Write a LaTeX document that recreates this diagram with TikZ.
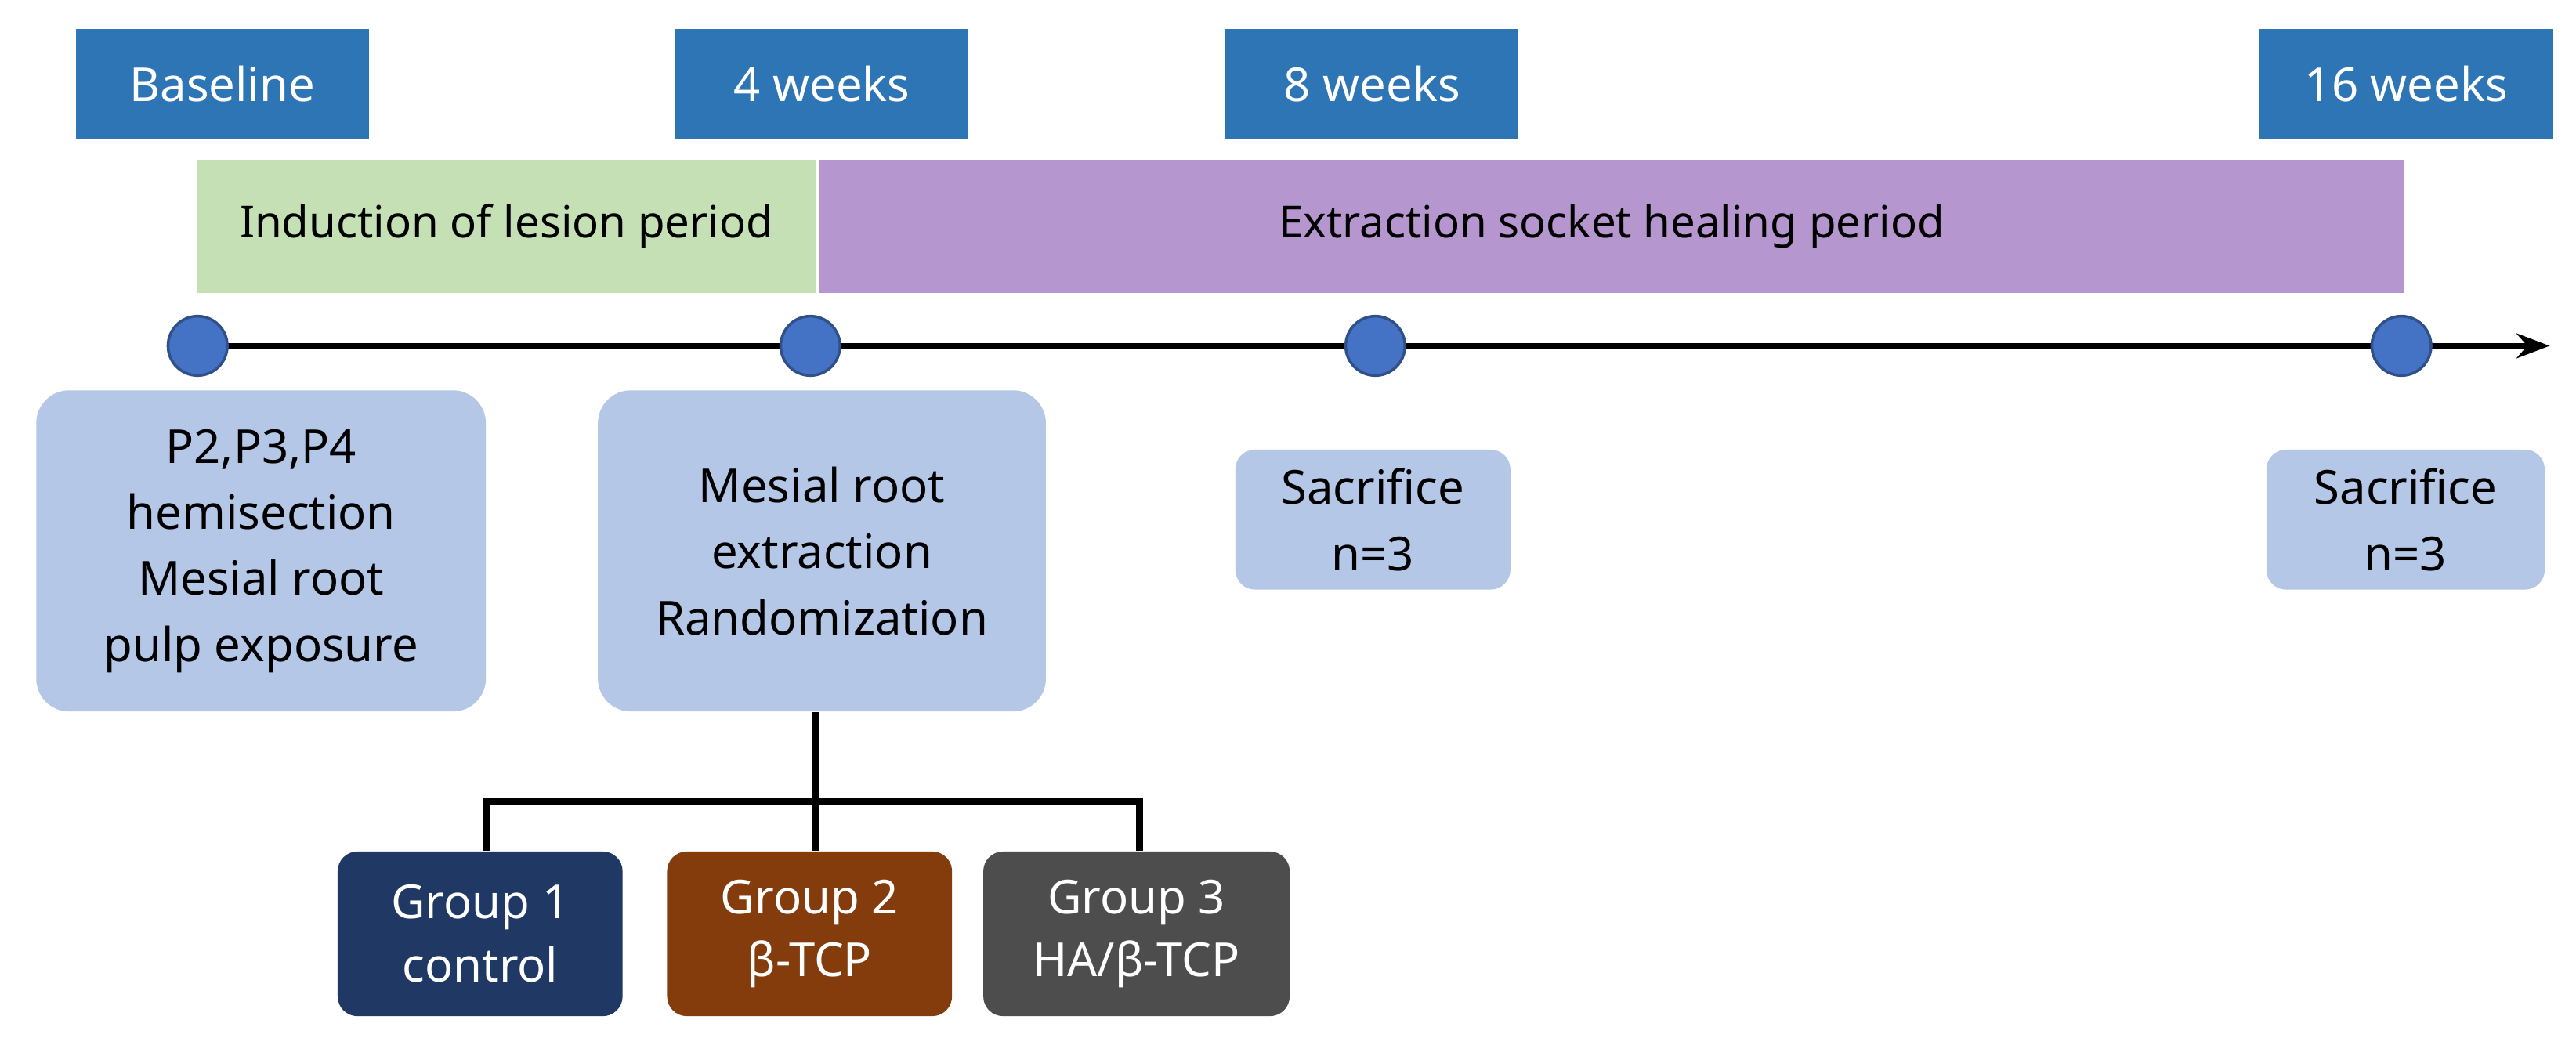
\documentclass[tikz,border=0pt]{standalone}
\usepackage{fontspec}
\setmainfont{Noto Sans}
\usetikzlibrary{arrows.meta}
\definecolor{tagblue}{HTML}{2E75B6}
\definecolor{lightgreen}{HTML}{C5E0B4}
\definecolor{lightpurple}{HTML}{B696CE}
\definecolor{dotblue}{HTML}{4472C4}
\definecolor{paleblue}{HTML}{B4C7E7}
\definecolor{navy}{HTML}{1F3864}
\definecolor{rust}{HTML}{843C0C}
\definecolor{darkgray}{HTML}{4D4D4D}
\tikzset{
  tag/.style={fill=tagblue, text=white, minimum width=178*0.021cm, minimum height=67*0.021cm, inner sep=0pt, font=\fontsize{17}{20}\selectfont},
  period/.style={minimum height=81*0.021cm, inner sep=0pt, font=\fontsize{16}{20}\selectfont},
  dot/.style={circle, fill=dotblue, draw=dotblue!70!black, line width=1pt, minimum size=36*0.021cm, inner sep=0pt},
  event/.style={fill=paleblue, rounded corners=20*0.021cm, inner sep=0pt, align=center, font=\fontsize{17}{24}\selectfont},
  group/.style={rounded corners=12*0.021cm, text=white, minimum height=100*0.021cm, inner sep=0pt, align=center, font=\fontsize{17}{23}\selectfont}
}
\begin{document}
\begin{tikzpicture}[x=0.021cm, y=-0.021cm, >=Stealth]
  \useasboundingbox (0,0) rectangle (1564,641);

  % Time labels
  \node[tag] (base) at (135,51) {Baseline};
  \node[tag] (w4) at (499,51) {4 weeks};
  \node[tag] (w8) at (833,51) {8 weeks};
  \node[tag] (w16) at (1461,51) {16 weeks};

  % Periods
  \node[period, fill=lightgreen, minimum width=375*0.021cm] (induct) at (307.5,137.5) {Induction of lesion period};
  \node[period, fill=lightpurple, minimum width=963*0.021cm] (heal) at (978.5,137.5) {Extraction socket healing period};

  % Timeline
  \coordinate (start) at (120,210);
  \coordinate (end) at (1548,210);
  \draw[->, line width=2pt] (start) -- (end);
  \node[dot] (t0) at (120,210) {};
  \node[dot] (t4) at (492,210) {};
  \node[dot] (t8) at (835,210) {};
  \node[dot] (t16) at (1458,210) {};

  % Events
  \node[event, minimum width=273*0.021cm, minimum height=195*0.021cm] (hemi) at (158.5,334.5) {P2,P3,P4\\hemisection\\Mesial root\\pulp exposure};
  \node[event, minimum width=272*0.021cm, minimum height=195*0.021cm] (extr) at (499,334.5) {Mesial root\\extraction\\Randomization};
  \node[event, rounded corners=12*0.021cm, minimum width=167*0.021cm, minimum height=85*0.021cm] (sac8) at (833.5,315.5) {Sacrifice\\n=3};
  \node[event, rounded corners=12*0.021cm, minimum width=169*0.021cm, minimum height=85*0.021cm] (sac16) at (1460.5,315.5) {Sacrifice\\n=3};

  % Groups
  \node[group, fill=navy, minimum width=173*0.021cm] (g1) at (291.5,567) {Group 1\\control};
  \node[group, fill=rust, minimum width=173*0.021cm] (g2) at (491.5,567) {Group 2\\β-TCP};
  \node[group, fill=darkgray, minimum width=186*0.021cm] (g3) at (690,567) {Group 3\\HA/β-TCP};

  % Branches
  \coordinate (split) at (495,487);
  \draw[line width=2.5pt] (extr.south -| split) -- (split);
  \draw[line width=2.5pt] (g1.north -| 295,0) |- (split) -| (g3.north -| 692,0);
  \draw[line width=2.5pt] (split) -- (g2.north -| split);
\end{tikzpicture}
\end{document}
